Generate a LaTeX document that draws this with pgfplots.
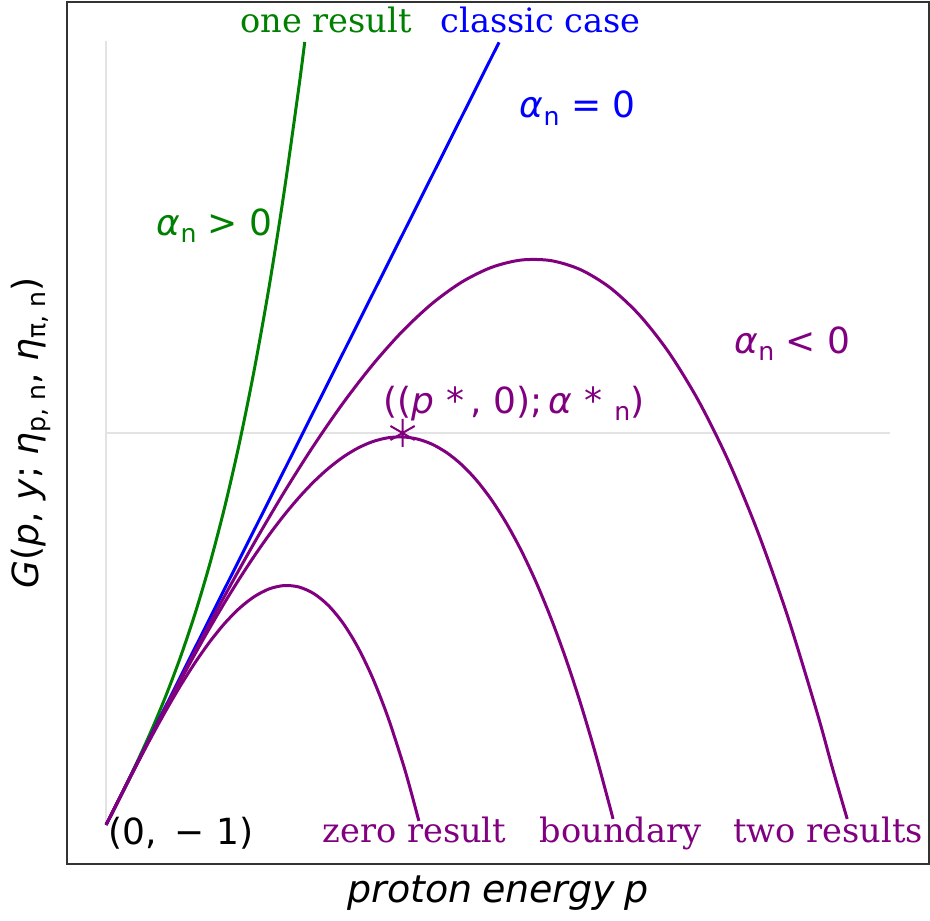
\documentclass[border=0pt]{standalone}
\usepackage{fontspec}
\setmainfont{DejaVu Sans}
\newfontfamily\dvserif{DejaVu Serif}
\usepackage{pgfplots}
\pgfplotsset{compat=1.18}

\definecolor{mplgreen}{HTML}{008000}
\definecolor{mplblue}{HTML}{0000FF}
\definecolor{mplpurple}{HTML}{800080}

% matplotlib-like subscript
\newcommand{\sub}[1]{\raisebox{-3.8pt}{\fontsize{12.6}{13}\selectfont #1}}
\newcommand{\lab}{\fontsize{18}{21}\selectfont}
\newcommand{\serlab}{\fontsize{16.8}{20}\selectfont\dvserif}

\begin{document}
\begin{tikzpicture}
\path[use as bounding box] (-33.5pt,-28pt) rectangle (431.5pt,432pt);
\begin{axis}[
    width=431pt, height=431pt,
    scale only axis,
    xmin=-0.132, xmax=2.776,
    ymin=-1.1, ymax=1.1,
    xtick=\empty, ytick=\empty,
    axis line style={black!80, line width=1pt},
    clip=false,
    xlabel={\itshape proton\hspace{0.25em}energy\hspace{0.25em}p},
    ylabel={\textit{G}(\textit{p}, \textit{y}; \textit{η}\sub{p, n}, \textit{η}\sub{π, n})},
    xlabel style={at={(axis description cs:0.5,-0.0441)}, anchor=base,
        font=\fontsize{19}{22}\selectfont},
    ylabel style={at={(axis description cs:-0.0336,0.5)}, anchor=base, font=\lab},
    every axis plot/.append style={line width=1.5pt, line join=round},
]
% light reference lines
\addplot[gray!22, line width=1pt] coordinates {(0,-1) (0,1)};
\addplot[gray!22, line width=1pt] coordinates {(0,0) (2.644,0)};

% alpha_n > 0
\addplot[mplgreen, smooth] coordinates {
    (0,-1) (0.05,-0.9246) (0.1,-0.8467) (0.15,-0.7639) (0.2,-0.6736)
    (0.25,-0.5734) (0.3,-0.4609) (0.35,-0.3335) (0.4,-0.1888)
    (0.45,-0.0243) (0.5,0.1625) (0.55,0.374) (0.6,0.6128)
    (0.65,0.8813) (0.670,0.998)
};
% alpha_n = 0
\addplot[mplblue] coordinates {(0,-1) (1.3255,0.997)};

% alpha_n < 0 : zero result
\addplot[mplpurple, smooth] coordinates {
    (0,-1) (0.05,-0.9252) (0.1,-0.8513) (0.15,-0.7795) (0.2,-0.7107)
    (0.25,-0.6459) (0.3,-0.5862) (0.35,-0.5325) (0.4,-0.4858)
    (0.45,-0.4471) (0.5,-0.4175) (0.55,-0.3979) (0.6,-0.3894)
    (0.65,-0.393) (0.7,-0.4096) (0.75,-0.4403) (0.8,-0.4861)
    (0.85,-0.5479) (0.9,-0.6269) (0.95,-0.7239) (1.0,-0.84)
    (1.025,-0.9055) (1.055,-0.99)
};
% boundary
\addplot[mplpurple, smooth] coordinates {
    (0,-1) (0.05,-0.9251) (0.1,-0.8505) (0.15,-0.7767) (0.2,-0.7041)
    (0.25,-0.633) (0.3,-0.5638) (0.35,-0.4969) (0.4,-0.4326)
    (0.45,-0.3715) (0.5,-0.3138) (0.55,-0.2599) (0.6,-0.2102)
    (0.65,-0.1651) (0.7,-0.1249) (0.75,-0.0902) (0.8,-0.0611)
    (0.85,-0.0382) (0.9,-0.0218) (0.95,-0.0123) (1.0,-0.01)
    (1.05,-0.0154) (1.1,-0.0288) (1.15,-0.0507) (1.2,-0.0813)
    (1.25,-0.1211) (1.3,-0.1705) (1.35,-0.2298) (1.4,-0.2994)
    (1.45,-0.3798) (1.5,-0.4713) (1.55,-0.5742) (1.6,-0.689)
    (1.65,-0.8161) (1.7,-0.9556) (1.71,-0.985)
};
% two results
\addplot[mplpurple, smooth] coordinates {
    (0,-1) (0.1,-0.8502) (0.2,-0.7019) (0.3,-0.5565) (0.4,-0.4154)
    (0.5,-0.28) (0.6,-0.1518) (0.7,-0.0323) (0.8,0.0771) (0.9,0.175)
    (1.0,0.26) (1.1,0.3306) (1.2,0.3853) (1.3,0.4227) (1.4,0.4414)
    (1.5,0.44) (1.6,0.417) (1.7,0.3709) (1.8,0.3003) (1.9,0.2038)
    (2.0,0.08) (2.1,-0.0726) (2.2,-0.2555) (2.3,-0.4701)
    (2.4,-0.7178) (2.45,-0.8545) (2.5,-0.985)
};
% critical point
\addplot[mplpurple, only marks, mark=asterisk, mark size=7pt,
    mark options={line width=1pt}] coordinates {(1,0)};

\begin{scope}[every node/.style={anchor=base, inner sep=0pt, font=\lab}]
\node[text=mplgreen, font=\serlab] at (axis cs:0.742,1.023) {one result};
\node[text=mplblue, font=\serlab] at (axis cs:1.466,1.023) {classic case};
\node[text=mplblue] at (axis cs:1.591,0.804) {\textit{α}\sub{n} = 0};
\node[text=mplgreen] at (axis cs:0.366,0.505) {\textit{α}\sub{n} > 0};
\node[text=mplpurple] at (axis cs:2.315,0.204) {\textit{α}\sub{n} < 0};
\node[text=mplpurple] at (axis cs:1.376,0.051)
    {((\textit{p}\,\,*\,, 0);\,\textit{α}\,\,*\,\,\sub{n})};
\node[text=black] at (axis cs:0.252,-1.051) {(0, \,−\,\,1)};
\node[text=mplpurple, font=\serlab] at (axis cs:1.040,-1.046) {zero result};
\node[text=mplpurple, font=\serlab] at (axis cs:1.735,-1.046) {boundary};
\node[text=mplpurple, font=\serlab] at (axis cs:2.436,-1.046) {two results};
\end{scope}
\end{axis}
\end{tikzpicture}
\end{document}
